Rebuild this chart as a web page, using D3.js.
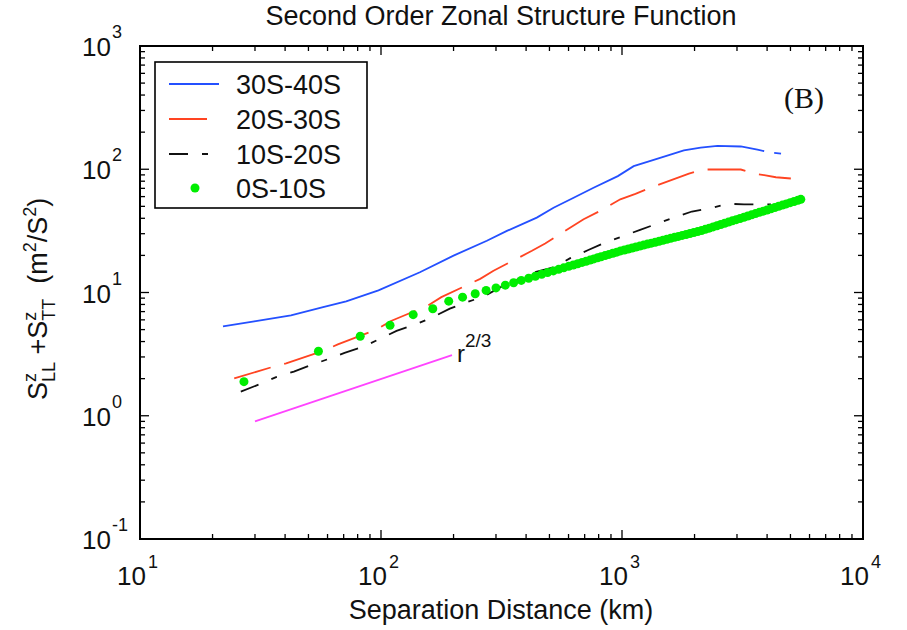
<!DOCTYPE html>
<html>
<head>
<meta charset="utf-8">
<script src="https://cdn.jsdelivr.net/npm/d3@7"></script>
<style>
  html, body { margin: 0; padding: 0; background: #fff; }
  svg { display: block; }
  text { font-family: "Liberation Sans", Arial, sans-serif; fill: #111; }
</style>
</head>
<body>
<div id="chart"></div>
<script>
// ---------------- data ----------------
const title = "Second Order Zonal Structure Function";
const xLabel = "Separation Distance (km)";
const seriesNames = ["30S-40S", "20S-30S", "10S-20S", "0S-10S"];
const xTickExps = [1, 2, 3, 4];
const yTickExps = [-1, 0, 1, 2, 3];

// 30S-40S (solid blue); null marks the gap in the curve
const x30_40 = [22.1, 29.8, 42.3, 57.5, 71.7, 97.6, 145, 200, 275, 333, 443, 520, 630, 762, 961, 1118, 1313, 1541, 1806, 2120, 2489, 3112, 3648, 3890, null, 4280, 4570];
const y30_40 = [5.32, 5.84, 6.53, 7.62, 8.46, 10.4, 14.6, 19.9, 26.3, 31.6, 40.5, 48.7, 58.7, 70.7, 88, 106, 117, 129, 142, 150, 155, 153, 144, 140, null, 136, 134];

// 20S-30S (dashed red)
const x20_30 = [24.6, 35.0, 40.4, 57.4, 66.2, 95.7, 110, 157, 178, 258, 293, 423, 480, 693, 800, 984, 1137, 1313, 1896, 2155, 3112, 3532, 3890, 4350, 5019];
const y20_30 = [2.01, 2.47, 2.66, 3.36, 3.79, 5.0, 5.87, 7.85, 9.17, 12.9, 15.0, 21.8, 25.0, 39.3, 45.3, 57.0, 63.2, 70.7, 92.3, 99.5, 99.5, 92.3, 89.5, 86.1, 84.1];

// 10S-20S (dash-dot black)
const x10_20 = [26.2, 31.3, 36.7, 43.5, 51.3, 60.3, 70.6, 84.1, 98.8, 116, 138, 162, 193, 227, 265, 334, 435, 520, 610, 721, 853, 1016, 1189, 1399, 1668, 1950, 2294, 2737, 3208, 4150];
const y10_20 = [1.57, 1.80, 2.06, 2.28, 2.58, 2.88, 3.24, 3.62, 4.20, 4.88, 5.49, 6.23, 7.39, 8.35, 9.23, 11.8, 14.6, 16.0, 19.0, 22.0, 25.5, 28.8, 32.2, 36.2, 41.0, 45.4, 47.9, 52.5, 51.9, 51.9];

// 0S-10S (green dots)
const x0_10 = [27, 55, 82, 109, 136, 164, 191, 218, 246, 273, 300, 328, 355, 382, 410, 437, 464, 491, 519, 546, 573, 601, 628, 655, 683, 710, 737, 764, 792, 819,
  851, 883, 916, 951, 986, 1023, 1062, 1102, 1143, 1186, 1230, 1276, 1324, 1374, 1426, 1479, 1535, 1592, 1652, 1714, 1778, 1845, 1914, 1986, 2061,
  2138, 2218, 2301, 2388, 2477, 2570, 2667, 2767, 2871, 2979, 3090, 3206, 3327, 3451, 3581, 3715, 3855, 3999, 4150, 4305, 4467, 4634, 4808, 4989, 5176, 5370, 5520];
const y0_10 = [1.89, 3.34, 4.42, 5.42, 6.61, 7.38, 8.51, 9.17, 9.77, 10.4, 10.9, 11.47, 12.0, 12.53, 13.06, 13.54, 14.04, 14.5, 14.96, 15.41, 15.85, 16.3, 16.72, 17.12, 17.54, 17.94, 18.33, 18.73, 19.13, 19.49,
  19.94, 20.37, 20.81, 21.26, 21.76, 22.14, 22.55, 22.96, 23.38, 23.81, 24.24, 24.69, 25.13, 25.59, 26.06, 26.53, 27.02, 27.51, 28.01, 28.52, 29.04, 29.57, 30.11, 30.66, 31.22,
  31.81, 32.53, 33.28, 34.04, 34.82, 35.62, 36.44, 37.27, 38.13, 38.99, 39.89, 40.8, 41.73, 42.69, 43.67, 44.68, 45.7, 46.74, 47.82, 48.92, 50.05, 51.19, 52.36, 53.56, 54.78, 56.04, 57.0];

// r^(2/3) reference line (magenta)
const xRef = [30, 197];
const yRef = [0.90, 3.10];

// ---------------- drawing ----------------
const W = 907, H = 630;
const svg = d3.select("#chart").append("svg").attr("width", W).attr("height", H);

const x = d3.scaleLog().domain([10, 1e4]).range([140, 863]);
const y = d3.scaleLog().domain([0.1, 1000]).range([539, 46]);
const [x0, x1] = x.range();
const [y0, y1] = y.range(); // y0 bottom, y1 top

// frame
svg.append("rect").attr("x", x0).attr("y", y1).attr("width", x1 - x0).attr("height", y0 - y1)
  .attr("fill", "none").attr("stroke", "#000").attr("stroke-width", 2);

const isMajor = v => Math.abs(Math.log10(v) - Math.round(Math.log10(v))) < 1e-9;
const majorLen = 9, minorLen = 5;
const tickG = svg.append("g").attr("stroke", "#000").attr("stroke-width", 1.3);
x.ticks().forEach(v => {
  const L = isMajor(v) ? majorLen : minorLen;
  const px = x(v);
  if (px <= x0 + 0.5 || px >= x1 - 0.5) return;
  tickG.append("line").attr("x1", px).attr("x2", px).attr("y1", y0).attr("y2", y0 - L);
  tickG.append("line").attr("x1", px).attr("x2", px).attr("y1", y1).attr("y2", y1 + L);
});
y.ticks().forEach(v => {
  const L = isMajor(v) ? majorLen : minorLen;
  const py = y(v);
  if (py >= y0 - 0.5 || py <= y1 + 0.5) return;
  tickG.append("line").attr("x1", x0).attr("x2", x0 + L).attr("y1", py).attr("y2", py);
  tickG.append("line").attr("x1", x1).attr("x2", x1 - L).attr("y1", py).attr("y2", py);
});

// tick labels
xTickExps.forEach(e => {
  const px = x(Math.pow(10, e));
  svg.append("text").attr("x", px + 6).attr("y", 585).attr("text-anchor", "end")
    .attr("font-size", 26).text("10");
  svg.append("text").attr("x", px + 8).attr("y", 568).attr("text-anchor", "start")
    .attr("font-size", 18).text(String(e));
});
yTickExps.forEach(e => {
  const py = y(Math.pow(10, e));
  svg.append("text").attr("x", 111).attr("y", py + 10).attr("text-anchor", "end")
    .attr("font-size", 26).text("10");
  svg.append("text").attr("x", 112).attr("y", py - 8).attr("text-anchor", "start")
    .attr("font-size", 18).text(e < 0 ? "-" + Math.abs(e) : String(e));
});

// title and axis labels
svg.append("text").attr("x", 501).attr("y", 25).attr("text-anchor", "middle")
  .attr("font-size", 27).text(title);
svg.append("text").attr("x", 501).attr("y", 619).attr("text-anchor", "middle")
  .attr("font-size", 27).text(xLabel);

const yl = svg.append("text").attr("transform", "translate(47,400) rotate(-90)")
  .attr("font-size", 27).attr("xml:space", "preserve");
yl.append("tspan").text("S");
yl.append("tspan").attr("font-size", 18).attr("dy", -11).text("z");
yl.append("tspan").attr("font-size", 18).attr("dx", -9).attr("dy", 19).text("LL");
yl.append("tspan").attr("dy", -8).text("\u00a0+S");
yl.append("tspan").attr("font-size", 18).attr("dy", -11).text("z");
yl.append("tspan").attr("font-size", 18).attr("dx", -9).attr("dy", 19).text("TT");
yl.append("tspan").attr("dy", -8).text("\u00a0\u00a0(m");
yl.append("tspan").attr("font-size", 18).attr("dy", -11).text("2");
yl.append("tspan").attr("dy", 11).text("/S");
yl.append("tspan").attr("font-size", 18).attr("dy", -11).text("2");
yl.append("tspan").attr("dy", 11).text(")");

// series
const colors = { blue: "#2450ff", red: "#ff4422", black: "#111111", green: "#00ee00", magenta: "#ff44ff" };
const dashRed = "38,14";
const dashBlack = "19,14,6,14";

const line = d3.line()
  .defined(d => d[0] != null && d[1] != null)
  .x(d => x(d[0])).y(d => y(d[1]));
const zip = (a, b) => a.map((v, i) => [v, b[i]]);

const dataG = svg.append("g");
dataG.append("path").datum(zip(xRef, yRef)).attr("d", line)
  .attr("fill", "none").attr("stroke", colors.magenta).attr("stroke-width", 1.8);
dataG.append("path").datum(zip(x10_20, y10_20)).attr("d", line)
  .attr("fill", "none").attr("stroke", colors.black).attr("stroke-width", 1.8)
  .attr("stroke-dasharray", dashBlack);
dataG.append("path").datum(zip(x20_30, y20_30)).attr("d", line)
  .attr("fill", "none").attr("stroke", colors.red).attr("stroke-width", 1.8)
  .attr("stroke-dasharray", dashRed);
dataG.append("path").datum(zip(x30_40, y30_40)).attr("d", line)
  .attr("fill", "none").attr("stroke", colors.blue).attr("stroke-width", 1.8);
dataG.selectAll("circle.g").data(zip(x0_10, y0_10)).enter().append("circle")
  .attr("cx", d => x(d[0])).attr("cy", d => y(d[1])).attr("r", 4.5)
  .attr("fill", colors.green);

// r^(2/3) label
const rl = svg.append("text").attr("x", x(xRef[1]) + 5).attr("y", 362).attr("font-size", 24);
rl.append("tspan").text("r");
rl.append("tspan").attr("font-size", 19).attr("dy", -15).text("2/3");

// (B)
svg.append("text").attr("x", 784).attr("y", 108).attr("font-size", 30)
  .style("font-family", "'Liberation Serif', 'Times New Roman', serif").text("(B)");

// legend
svg.append("rect").attr("x", 155).attr("y", 62).attr("width", 212).attr("height", 146)
  .attr("fill", "#fff").attr("stroke", "#000").attr("stroke-width", 1.6);
const rows = [84, 119, 154, 188];
const legendStyles = [
  { c: colors.blue, dash: null },
  { c: colors.red, dash: dashRed },
  { c: colors.black, dash: dashBlack },
  { c: colors.green, dot: true }
];
seriesNames.forEach((name, i) => {
  const cy = rows[i];
  const s = legendStyles[i];
  if (s.dot) {
    svg.append("circle").attr("cx", 195).attr("cy", cy).attr("r", 4.5).attr("fill", s.c);
  } else {
    const l = svg.append("line").attr("x1", 169).attr("x2", 219).attr("y1", cy).attr("y2", cy)
      .attr("stroke", s.c).attr("stroke-width", 1.8);
    if (s.dash) l.attr("stroke-dasharray", s.dash);
  }
  svg.append("text").attr("x", 236).attr("y", cy + 10).attr("font-size", 27).text(name);
});
</script>
</body>
</html>
